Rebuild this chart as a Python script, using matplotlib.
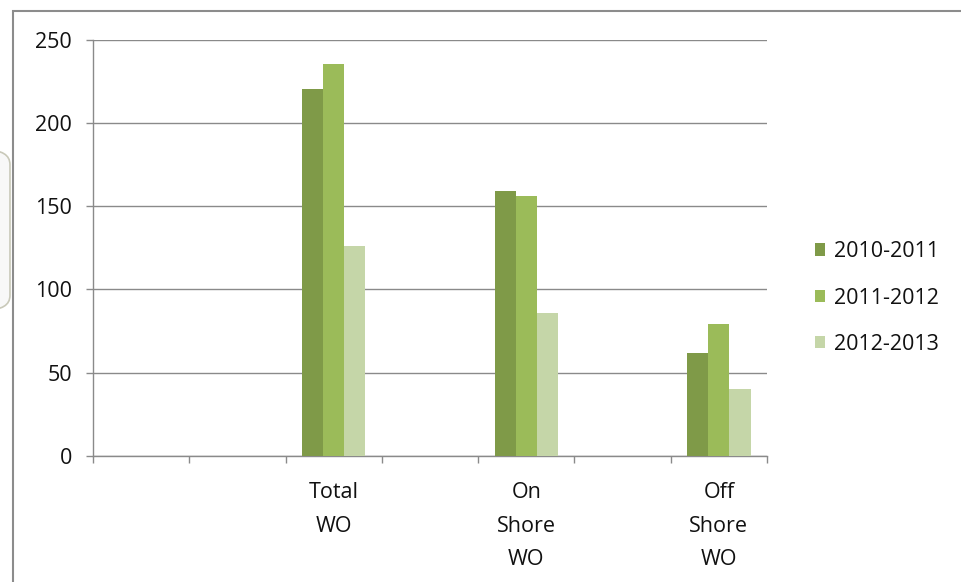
import numpy as np
import matplotlib.pyplot as plt
from matplotlib.patches import Rectangle, FancyBboxPatch

# Work order counts by year; blank slots are empty category rows
categories = ['', '', 'Total\nWO', '', 'On\nShore\nWO', '', 'Off\nShore\nWO']
wo_2010_2011 = [np.nan, np.nan, 220, np.nan, 159, np.nan, 62]
wo_2011_2012 = [np.nan, np.nan, 235, np.nan, 156, np.nan, 79]
wo_2012_2013 = [np.nan, np.nan, 126, np.nan, 86, np.nan, 40]
series_labels = ['2010-2011', '2011-2012', '2012-2013']
colors = ['#7f9a48', '#9bbb59', '#c5d6a8']
y_ticks = [0, 50, 100, 150, 200, 250]

plt.rcParams['font.family'] = ['Open Sans', 'DejaVu Sans']
fs = 15.5

W, H = 961, 582
fig = plt.figure(figsize=(W / 100, H / 100), dpi=100)

# chart frame and the edge of a neighbouring shape
fig.patches.append(Rectangle((13 / W, -0.05), 1.1, (H - 11) / H + 0.05,
                             transform=fig.transFigure, fill=False,
                             edgecolor='#8c8c8c', linewidth=1.5))
fig.patches.append(FancyBboxPatch((-40 / W, (H - 310) / H), 50 / W, 160 / H,
                                  boxstyle='round,pad=0,rounding_size=0.025',
                                  transform=fig.transFigure,
                                  facecolor='#f8f8f8', edgecolor='#c9c9b9',
                                  linewidth=1.2))

ax = fig.add_axes([93 / W, (H - 456) / H, 674 / W, 416.5 / H])

x = np.arange(len(categories))
width = 0.22
for i, (vals, lab, col) in enumerate(zip([wo_2010_2011, wo_2011_2012, wo_2012_2013],
                                         series_labels, colors)):
    ax.bar(x + (i - 1) * width, vals, width, color=col, label=lab, zorder=3)

ax.set_xlim(-0.5, len(categories) - 0.5)
ax.set_ylim(0, 250)
ax.set_yticks(y_ticks)
ax.yaxis.grid(True, color='#8a8a8a', linewidth=1.0, zorder=0)

ax.set_xticks(x)
ax.set_xticklabels(categories, fontsize=fs, color='#111111', linespacing=1.78,
                   va='top')
ax.tick_params(axis='x', length=0, pad=19)
ax.set_xticks(np.arange(-0.5, len(categories)), minor=True)
ax.tick_params(axis='x', which='minor', length=5, color='#8a8a8a', width=1.0,
               direction='out')
ax.tick_params(axis='y', length=5, color='#8a8a8a', width=1.0, pad=10,
               labelsize=fs, labelcolor='#111111')

for side in ['top', 'right']:
    ax.spines[side].set_visible(False)
for side in ['left', 'bottom']:
    ax.spines[side].set_color('#8a8a8a')
    ax.spines[side].set_linewidth(1.0)

leg = ax.legend(loc='center left', bbox_to_anchor=(806 / W, (H - 298) / H),
                bbox_transform=fig.transFigure, frameon=False, fontsize=fs,
                handlelength=0.5, handleheight=0.5, handletextpad=0.4,
                labelspacing=1.18, borderaxespad=0)
for t in leg.get_texts():
    t.set_color('#111111')

fig.savefig('out.png', dpi=100)
